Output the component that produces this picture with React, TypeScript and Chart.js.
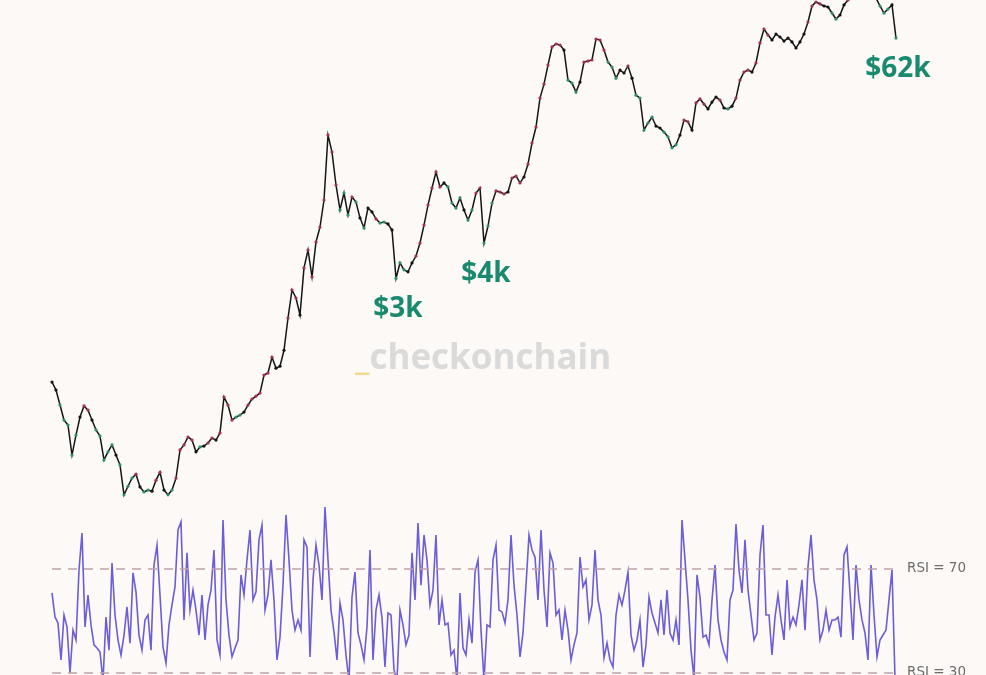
import React, { useEffect, useRef } from "react";
import { Chart, registerables } from "chart.js";

Chart.register(...registerables);

// sampling (days between samples)
const PRICE_STEP = 4;
const RSI_STEP = 3;

// price (USD, log axis)
const price = [
  796, 719, 595, 492, 462, 316, 407, 511, 588, 558, 492, 434, 402, 297, 329, 359, 316, 279, 191, 213,
  236, 248, 211, 198, 203, 200, 230, 254, 203, 191, 203, 236, 337, 359, 397, 382, 329, 350, 354, 368,
  392, 382, 418, 658, 595, 492, 511, 524, 544, 595, 642, 666, 692, 869, 892, 1089, 949, 973, 1190, 1790,
  2550, 2305, 1859, 3371, 4230, 3011, 4680, 5657, 7960, 18100, 14600, 9630, 7020, 8700, 6590, 8270, 7760, 6350, 5590, 7190,
  6850, 6270, 5950, 6030, 5880, 5450, 2960, 3590, 3290, 3210, 3590, 3920, 4620, 5800, 7470, 9270, 11350, 9390, 9880, 9390,
  7660, 7190, 8170, 7020, 6180, 7020, 8700, 9270, 4620, 5730, 7660, 8930, 8810, 8590, 8810, 10520, 10790, 9880, 10650, 12550,
  16370, 20050, 28900, 34500, 43900, 55200, 57300, 56600, 53100, 36300, 34950, 31200, 35400, 45600, 46200, 46800, 61000, 60300, 53100, 45600,
  42800, 37200, 41200, 39700, 43400, 37200, 30000, 28900, 19300, 21100, 22700, 20300, 19800, 18800, 17700, 15400, 16000, 18100, 21900, 21400,
  19300, 27200, 28600, 26800, 25200, 27500, 29300, 28200, 25500, 25200, 26100, 28900, 36300, 40200, 41200, 40200, 45100, 58100, 69300, 64200,
  60300, 65000, 62600, 59500, 61800, 58800, 54500, 58800, 65000, 75700, 92700, 97500, 95100, 92700, 91500, 84800, 78600, 82700, 93900, 100000,
  107900, 113500, 116400, 113500, 110600, 107900, 102600, 92700, 84800, 89200, 93900, 61800,
];

// RSI
const rsi = [
  60.8, 51.5, 49.2, 35.0, 52.3, 47.7, 30.0, 46.5, 42.7, 69.6, 83.8, 47.7, 60.0, 48.5, 40.8, 39.6, 38.1, 27.0, 51.5, 38.8,
  72.3, 52.3, 42.7, 36.9, 44.6, 55.4, 41.5, 68.5, 61.2, 44.6, 38.8, 50.4, 52.3, 38.8, 71.5, 79.2, 60.0, 40.0, 33.8, 48.5,
  56.2, 63.1, 85.0, 88.1, 50.4, 76.2, 54.2, 61.9, 54.2, 44.6, 60.0, 42.7, 56.2, 61.9, 77.3, 42.7, 36.9, 88.8, 58.1, 44.6,
  36.2, 39.6, 42.7, 67.7, 60.0, 73.5, 85.0, 58.1, 61.2, 81.2, 86.9, 54.2, 60.0, 73.5, 58.1, 35.0, 43.8, 63.8, 90.8, 73.5,
  54.2, 46.5, 50.4, 46.5, 81.2, 78.5, 36.2, 65.8, 79.2, 71.5, 58.1, 93.8, 73.5, 54.2, 45.8, 35.0, 56.9, 50.4, 36.9, 27.0,
  59.2, 68.8, 45.4, 40.8, 35.0, 47.7, 77.3, 35.0, 54.2, 60.0, 51.2, 32.3, 53.1, 52.3, 31.2, 27.0, 54.2, 48.5, 40.8, 44.6,
  76.2, 58.1, 87.7, 63.8, 83.1, 73.5, 56.2, 61.9, 83.1, 48.5, 58.1, 48.5, 49.2, 36.9, 38.8, 27.0, 60.8, 39.6, 36.9, 50.4,
  41.5, 68.8, 73.5, 46.5, 27.0, 48.5, 47.7, 73.5, 79.2, 54.2, 53.5, 49.2, 58.1, 83.1, 63.8, 52.3, 36.2, 45.4, 63.8, 83.1,
  77.3, 74.6, 58.1, 85.0, 61.9, 47.7, 76.2, 72.3, 52.3, 54.2, 42.7, 54.2, 46.5, 35.0, 40.8, 45.4, 74.6, 63.1, 65.8, 50.4,
  56.2, 77.3, 58.1, 52.3, 35.8, 41.5, 35.0, 32.3, 52.3, 60.0, 56.2, 61.9, 68.8, 44.6, 38.8, 42.7, 50.4, 32.3, 40.8, 59.2,
  53.1, 49.2, 45.4, 58.1, 44.6, 61.9, 45.4, 42.7, 50.4, 40.8, 88.8, 73.5, 58.1, 38.8, 28.0, 67.7, 59.2, 43.8, 44.6, 40.8,
  58.1, 71.5, 50.4, 42.7, 38.1, 35.0, 58.1, 61.9, 87.3, 69.6, 60.8, 81.2, 61.9, 52.3, 42.7, 45.4, 75.4, 86.9, 52.3, 52.3,
  36.9, 51.5, 60.0, 50.4, 42.7, 65.8, 47.7, 51.5, 48.5, 56.2, 65.8, 46.5, 70.8, 83.1, 65.8, 58.1, 42.7, 46.5, 54.2, 46.5,
  50.4, 50.4, 51.5, 43.8, 75.4, 78.5, 60.8, 42.7, 71.5, 58.1, 50.4, 45.4, 35.0, 71.5, 52.3, 36.2, 42.7, 44.6, 46.5, 58.1,
  69.6, 28.0,
];

const rsiLevels = [70, 30];
const rsiLevelLabels = ["RSI = 70", "RSI = 30"];

const calloutLabels = ["$3k", "$4k", "$62k"];
const calloutIndex = [86, 108, 211];

const watermarkPrefix = "_";
const watermarkText = "checkonchain";

const X_MAX = (price.length - 1) * PRICE_STEP;

const RED = "#a3304f";
const GREEN = "#2e8f6a";
const LINE = "#151515";
const TEAL = "#1a8a6e";

function pointColors(values: number[]): string[] {
  return values.map((v, i) => {
    const prev = values[Math.max(0, i - 3)];
    const d = Math.log10(v / prev);
    if (d > 0.045) return RED;
    if (d < -0.045) return GREEN;
    return LINE;
  });
}

export default function App() {
  const ref = useRef<HTMLCanvasElement | null>(null);

  useEffect(() => {
    if (!ref.current) return;

    const overlay = {
      id: "overlay",
      beforeDatasetsDraw(chart: any) {
        const { ctx, chartArea } = chart;
        ctx.save();
        ctx.font = 'bold 35px "Open Sans"';
        ctx.textBaseline = "alphabetic";
        ctx.textAlign = "left";
        const wx = chartArea.left + 303;
        const wy = chartArea.top + 369;
        ctx.fillStyle = "#f1d98f";
        ctx.fillText(watermarkPrefix, wx, wy);
        const pw = ctx.measureText(watermarkPrefix).width;
        ctx.fillStyle = "#dadada";
        ctx.fillText(watermarkText, wx + pw, wy);
        ctx.restore();
      },
      afterDatasetsDraw(chart: any) {
        const { ctx } = chart;
        const x = chart.scales.x;
        const yP = chart.scales.yPrice;
        const yR = chart.scales.yRsi;
        ctx.save();
        ctx.font = '13.5px "DejaVu Sans"';
        ctx.fillStyle = "#6c6c6c";
        ctx.textAlign = "left";
        ctx.textBaseline = "middle";
        rsiLevels.forEach((lv, k) => {
          ctx.fillText(rsiLevelLabels[k], x.right + 11, yR.getPixelForValue(lv));
        });
        ctx.font = 'bold 28px "Open Sans"';
        ctx.fillStyle = TEAL;
        ctx.textAlign = "center";
        ctx.textBaseline = "alphabetic";
        calloutLabels.forEach((lab, k) => {
          const i = calloutIndex[k];
          const px = x.getPixelForValue(i * PRICE_STEP) + 2;
          const py = yP.getPixelForValue(price[i]) + 39;
          ctx.fillText(lab, px, py);
        });
        ctx.restore();
      },
    };

    const chart = new Chart(ref.current, {
      type: "line",
      data: {
        datasets: [
          ...rsiLevels.map((lv) => ({
            data: [
              { x: 0, y: lv },
              { x: X_MAX, y: lv },
            ],
            yAxisID: "yRsi",
            borderColor: "#bea2aa",
            borderWidth: 1.3,
            borderDash: [9, 7],
            pointRadius: 0,
            clip: false as any,
          })),
          {
            data: rsi.map((v, j) => ({ x: j * RSI_STEP, y: v })),
            yAxisID: "yRsi",
            borderColor: "rgba(88, 72, 212, 0.88)",
            borderWidth: 1.6,
            pointRadius: 0,
            tension: 0,
            clip: false as any,
          },
          {
            data: price.map((v, i) => ({ x: i * PRICE_STEP, y: v })),
            yAxisID: "yPrice",
            borderColor: LINE,
            borderWidth: 1.5,
            pointRadius: 1.6,
            pointBorderWidth: 0,
            pointBackgroundColor: pointColors(price),
            tension: 0,
            clip: false as any,
          },
        ],
      },
      options: {
        responsive: false,
        animation: false,
        devicePixelRatio: 1,
        layout: { autoPadding: false, padding: { left: 52, right: 90, top: 0, bottom: 0 } },
        scales: {
          x: { type: "linear", axis: "x", min: 0, max: X_MAX, display: false },
          yPrice: { type: "logarithmic", axis: "y", position: "left", min: 19.55, max: 100000, display: false },
          yRsi: { type: "linear", axis: "y", position: "right", min: 29.23, max: 288.85, display: false },
        },
        plugins: { legend: { display: false }, tooltip: { enabled: false } },
        events: [],
      },
      plugins: [overlay],
    } as any);

    if ((document as any).fonts && (document as any).fonts.load) {
      Promise.all([
        (document as any).fonts.load('bold 28px "Open Sans"'),
        (document as any).fonts.load('13.5px "DejaVu Sans"'),
      ])
        .then(() => chart.draw())
        .catch(() => {});
    }

    return () => chart.destroy();
  }, []);

  return (
    <div
      style={{
        position: "fixed",
        left: 0,
        top: 0,
        width: 986,
        height: 675,
        background: "#fcf9f6",
        overflow: "hidden",
      }}
    >
      <canvas ref={ref} width={986} height={675} style={{ display: "block" }} />
    </div>
  );
}
